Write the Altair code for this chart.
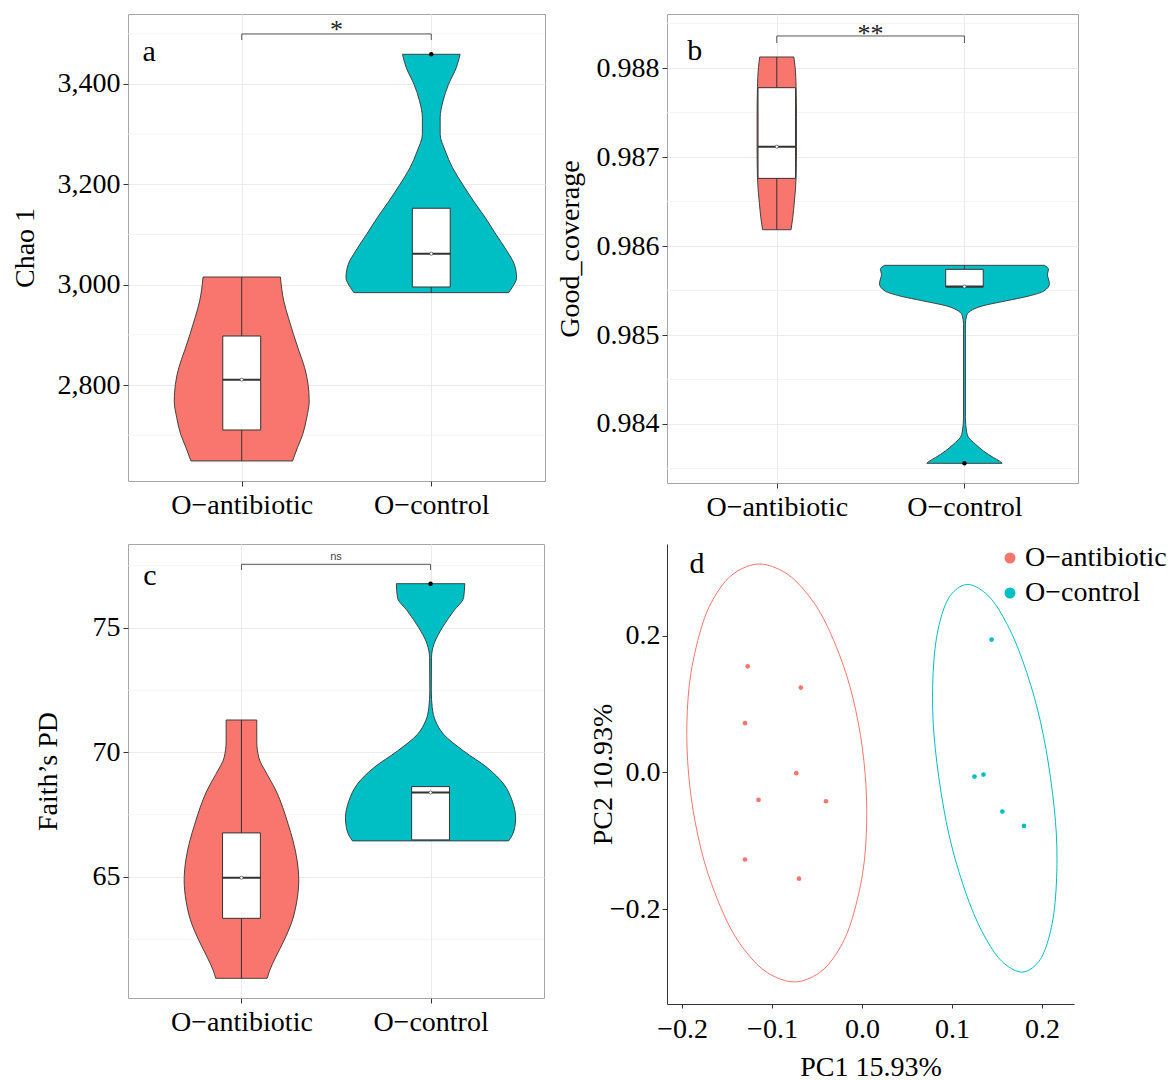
import altair as alt
import pandas as pd

FONT = "Liberation Serif"
GROUPS = ["O−antibiotic", "O−control"]
COLORS = ["#F8766D", "#00BFC4"]
POS = [1, 2]

# ---------------- panel a : Chao 1 ----------------
# violin outlines: value and half-width (in group units)
A_V = [
    [3015.3, 2967.5, 2934.3, 2901.1, 2867.9, 2834.6, 2801.5, 2768.2, 2735.0, 2701.8, 2675.1, 2648.6],
    [3459.2, 3432.5, 3399.3, 3366.1, 3332.8, 3299.7, 3266.5, 3233.2, 3200.1, 3166.8, 3133.5, 3100.5,
     3067.2, 3040.7, 3014.0, 2994.0, 2984.1],
]
A_W = [
    [0.204, 0.222, 0.246, 0.273, 0.302, 0.332, 0.350, 0.356, 0.343, 0.322, 0.294, 0.268],
    [0.152, 0.132, 0.091, 0.062, 0.047, 0.047, 0.074, 0.112, 0.165, 0.223, 0.285, 0.341,
     0.399, 0.438, 0.450, 0.426, 0.408],
]
A_LO = [2648.6, 2984.1]
A_Q1 = [2710.4, 2995.4]
A_MED = [2810.7, 3061.8]
A_Q3 = [2897.7, 3152.3]
A_HI = [3015.3, 3152.3]
A_OUT_POS = [2]
A_OUT_V = [3459.2]
A_TICKS = [2800, 3000, 3200, 3400]
A_MINOR = [2700, 2900, 3100, 3300, 3500]

# ---------------- panel b : Good_coverage ----------------
B_V = [
    [0.988124, 0.988004, 0.987779, 0.987442, 0.987116, 0.986767, 0.986506, 0.986318, 0.986183],
    [0.985783, 0.985738, 0.985682, 0.985576, 0.985494, 0.985438, 0.985382, 0.985326, 0.985270,
     0.985213, 0.985120, 0.984071, 0.983921, 0.983846, 0.983772, 0.983697, 0.983622, 0.983584, 0.983558],
]
B_W = [
    [0.091, 0.098, 0.103, 0.105, 0.105, 0.103, 0.094, 0.085, 0.076],
    [0.426, 0.448, 0.442, 0.453, 0.423, 0.343, 0.218, 0.094, 0.032,
     0.011, 0.005, 0.005, 0.011, 0.023, 0.059, 0.101, 0.155, 0.186, 0.201],
]
B_LO = [0.986183, 0.985540]
B_Q1 = [0.986760, 0.985540]
B_MED = [0.987116, 0.985545]
B_Q3 = [0.987779, 0.985738]
B_HI = [0.988124, 0.985783]
B_OUT_POS = [2]
B_OUT_V = [0.983558]
B_TICKS = [0.984, 0.985, 0.986, 0.987, 0.988]
B_MINOR = [0.9835, 0.9845, 0.9855, 0.9865, 0.9875, 0.9885]

# ---------------- panel c : Faith's PD ----------------
C_V = [
    [71.305, 70.46, 69.79, 69.12, 68.45, 67.78, 67.12, 66.45, 65.64, 64.84, 64.04, 63.23,
     62.43, 61.76, 61.22, 60.93],
    [76.78, 76.22, 75.68, 75.01, 74.35, 73.81, 72.47, 71.80, 71.27, 70.73, 70.06, 69.39,
     68.72, 68.05, 67.38, 66.85, 66.45],
]
C_W = [
    [0.081, 0.081, 0.092, 0.136, 0.184, 0.219, 0.247, 0.273, 0.295, 0.303, 0.293, 0.268,
     0.224, 0.180, 0.148, 0.136],
    [0.181, 0.175, 0.122, 0.062, 0.018, 0.005, 0.004, 0.009, 0.026, 0.069, 0.175, 0.300,
     0.388, 0.432, 0.450, 0.441, 0.413],
]
C_LO = [60.93, 66.45]
C_Q1 = [63.34, 66.49]
C_MED = [64.97, 68.39]
C_Q3 = [66.77, 68.63]
C_HI = [71.305, 68.63]
C_OUT_POS = [2]
C_OUT_V = [76.78]
C_TICKS = [65, 70, 75]
C_MINOR = [62.5, 67.5, 72.5, 77.5]

# ---------------- panel d : PCoA ----------------
PCA_GROUP = ["O−antibiotic"] * 8 + ["O−control"] * 5
PC1 = [-0.127, -0.068, -0.130, -0.073, -0.115, -0.040, -0.130, -0.070,
       0.144, 0.125, 0.135, 0.156, 0.180]
PC2 = [0.155, 0.124, 0.072, -0.001, -0.040, -0.042, -0.127, -0.155,
       0.194, -0.006, -0.003, -0.057, -0.078]
# confidence-ellipse outlines
ELL_A_X = [-0.1141, -0.0848, -0.0616, -0.0402, -0.0179, -0.0041, 0.0034, 0.0052, 0.0008, -0.0124,
           -0.0280, -0.0477, -0.0752, -0.1046, -0.1278, -0.1491, -0.1714, -0.1852, -0.1928,
           -0.1946, -0.1901, -0.1769, -0.1613, -0.1417]
ELL_A_Y = [0.3044, 0.2912, 0.2620, 0.2182, 0.1453, 0.0723, -0.0007, -0.0737, -0.1467, -0.2197,
           -0.2635, -0.2927, -0.3058, -0.2927, -0.2635, -0.2197, -0.1467, -0.0737, -0.0007,
           0.0723, 0.1453, 0.2182, 0.2620, 0.2912]
ELL_C_X = [0.1174, 0.1373, 0.1546, 0.1734, 0.1918, 0.2043, 0.2137, 0.2167, 0.2139, 0.2059, 0.1949,
           0.1777, 0.1578, 0.1406, 0.1217, 0.1033, 0.0908, 0.0814, 0.0784, 0.0812, 0.0892, 0.1002]
ELL_C_Y = [0.2745, 0.2616, 0.2324, 0.1813, 0.1083, 0.0353, -0.0523, -0.1253, -0.1982, -0.2493,
           -0.2785, -0.2914, -0.2785, -0.2493, -0.1982, -0.1253, -0.0523, 0.0353, 0.1083, 0.1813,
           0.2324, 0.2616]


def violin_panel(V, W, LO, Q1, MED, Q3, HI, OUT_POS, OUT_V, ydom, xdom, ticks, minor, fmt,
                 ytitle, title_x, width, height, br_y, br_tip, sig, sig_y, sig_font, sig_size,
                 sig_color, letter, letter_x, letter_y):
    xs = alt.Scale(domain=xdom, nice=False, zero=False)
    ys = alt.Scale(domain=ydom, nice=False, zero=False)
    xaxis = alt.Axis(values=[1, 2], labelExpr="datum.value == 1 ? 'O−antibiotic' : 'O−control'",
                     title=None, grid=True, gridColor="#EBEBEB", gridWidth=1, domain=False,
                     ticks=True, tickColor="#333333", tickSize=5, labelFont=FONT, labelFontSize=28,
                     labelColor="black", labelPadding=5, labelFlush=False, labelOverlap=False)
    yaxis = alt.Axis(values=ticks, format=fmt, title=ytitle, titleX=title_x, titleFont=FONT,
                     titleFontSize=28, titleFontWeight="normal", titleColor="black", grid=True,
                     gridColor="#EBEBEB", gridWidth=1, domain=False, tickColor="#333333", tickSize=5,
                     labelFont=FONT, labelFontSize=28, labelColor="black", labelPadding=3,
                     labelOverlap=False)

    def X(f):
        return alt.X(f, type="quantitative", scale=xs, axis=xaxis)

    def Y(f):
        return alt.Y(f, type="quantitative", scale=ys, axis=yaxis)

    layers = [alt.Chart(pd.DataFrame({"v": minor})).mark_rule(color="#EFEFEF", strokeWidth=0.7)
              .encode(y=Y("v"))]
    for i in range(2):
        df = pd.DataFrame({"v": V[i], "lo": [POS[i] - w for w in W[i]],
                           "hi": [POS[i] + w for w in W[i]]})
        layers.append(alt.Chart(df).mark_area(orient="horizontal", interpolate="monotone",
                                              fill=COLORS[i], stroke="#333333", strokeWidth=0.9,
                                              opacity=1)
                      .encode(y=Y("v"), x=X("lo"), x2="hi"))
    box = pd.DataFrame({"pos": POS, "x1": [p - 0.1 for p in POS], "x2": [p + 0.1 for p in POS],
                        "lo": LO, "q1": Q1, "med": MED, "q3": Q3, "hi": HI})
    layers.append(alt.Chart(box).mark_rule(color="#333333", strokeWidth=1)
                  .encode(x=X("pos"), y=Y("lo"), y2="hi"))
    layers.append(alt.Chart(box).mark_rect(fill="white", stroke="#333333", strokeWidth=1)
                  .encode(x=X("x1"), x2="x2", y=Y("q1"), y2="q3"))
    layers.append(alt.Chart(box).mark_rule(color="#333333", strokeWidth=2)
                  .encode(x=X("x1"), x2="x2", y=Y("med")))
    layers.append(alt.Chart(box).mark_circle(fill="white", stroke="#333333", strokeWidth=0.6,
                                             size=10, opacity=1)
                  .encode(x=X("pos"), y=Y("med")))
    out = pd.DataFrame({"pos": OUT_POS, "v": OUT_V})
    layers.append(alt.Chart(out).mark_circle(color="black", size=20, opacity=1)
                  .encode(x=X("pos"), y=Y("v")))
    br = pd.DataFrame({"i": [0, 1, 2, 3], "bx": [1, 1, 2, 2], "by": [br_tip, br_y, br_y, br_tip]})
    layers.append(alt.Chart(br).mark_line(color="#555555", strokeWidth=1)
                  .encode(x=X("bx"), y=Y("by"), order="i:Q"))
    sg = pd.DataFrame({"tx": [1.5], "ty": [sig_y], "t": [sig]})
    layers.append(alt.Chart(sg).mark_text(font=sig_font, fontSize=sig_size, color=sig_color,
                                          align="center", baseline="middle")
                  .encode(x=X("tx"), y=Y("ty"), text="t:N"))
    lt = pd.DataFrame({"tx": [letter_x], "ty": [letter_y], "t": [letter]})
    layers.append(alt.Chart(lt).mark_text(font=FONT, fontSize=30, color="black",
                                          align="center", baseline="middle")
                  .encode(x=X("tx"), y=Y("ty"), text="t:N"))
    return alt.layer(*layers).properties(
        width=width, height=height,
        view=alt.ViewBackground(stroke="#A6A6A6", strokeWidth=1))


pa = violin_panel(A_V, A_W, A_LO, A_Q1, A_MED, A_Q3, A_HI, A_OUT_POS, A_OUT_V,
                  [2608.7, 3539.5], [0.4, 2.6], A_TICKS, A_MINOR, ",d", "Chao 1", -89,
                  417, 467, 3499.7, 3487.7, "*", 3507.0, FONT, 26, "#222222", "a", 0.511, 3462.8)
pb = violin_panel(B_V, B_W, B_LO, B_Q1, B_MED, B_Q3, B_HI, B_OUT_POS, B_OUT_V,
                  [0.983337, 0.988607], [0.415, 2.605], B_TICKS, B_MINOR, ".3f", "Good_coverage", -83,
                  411, 469, 0.988360, 0.988281, "**", 0.988385, FONT, 26, "#222222", "b", 0.563, 0.988189)
pc = violin_panel(C_V, C_W, C_LO, C_Q1, C_MED, C_Q3, C_HI, C_OUT_POS, C_OUT_V,
                  [60.14, 78.373], [0.4, 2.6], C_TICKS, C_MINOR, "d", "Faith’s PD", -66,
                  416, 454, 77.558, 77.33, "ns", 77.84, "Liberation Sans", 11, "#444444", "c", 0.516, 77.08)

# panel d
dxs = alt.Scale(domain=[-0.2167, 0.2356], nice=False, zero=False)
dys = alt.Scale(domain=[-0.338, 0.3336], nice=False, zero=False)
dxaxis = alt.Axis(values=[-0.2, -0.1, 0.0, 0.1, 0.2], format=".1f", title="PC1 15.93%", titleY=49,
                  titleFont=FONT, titleFontSize=28, titleFontWeight="normal", titleColor="black",
                  grid=False, domain=True, domainColor="#333333", domainWidth=1, tickColor="#333333",
                  tickSize=4, labelFont=FONT, labelFontSize=28, labelColor="black", labelPadding=7,
                  labelFlush=False, labelOverlap=False)
dyaxis = alt.Axis(values=[-0.2, 0.0, 0.2], format=".1f", title="PC2 10.93%", titleX=-50,
                  titleFont=FONT, titleFontSize=28, titleFontWeight="normal", titleColor="black",
                  grid=False, domain=True, domainColor="#333333", domainWidth=1, tickColor="#333333",
                  tickSize=5, labelFont=FONT, labelFontSize=28, labelColor="black", labelPadding=2,
                  labelOverlap=False)


def DX(f):
    return alt.X(f, type="quantitative", scale=dxs, axis=dxaxis)


def DY(f):
    return alt.Y(f, type="quantitative", scale=dys, axis=dyaxis)


pts = pd.DataFrame({"grp": PCA_GROUP, "pc1": PC1, "pc2": PC2})
ell = pd.concat([
    pd.DataFrame({"grp": GROUPS[0], "i": list(range(len(ELL_A_X))), "ex": ELL_A_X, "ey": ELL_A_Y}),
    pd.DataFrame({"grp": GROUPS[1], "i": list(range(len(ELL_C_X))), "ex": ELL_C_X, "ey": ELL_C_Y}),
])
letter_d = pd.DataFrame({"tx": [-0.1834], "ty": [0.3045], "t": ["d"]})

# legend is placed in the top-level layout coordinates (origin = top-left of panel a)
pd_points = alt.Chart(pts).mark_circle(size=22, opacity=1).encode(
    x=DX("pc1"), y=DY("pc2"),
    color=alt.Color("grp:N", scale=alt.Scale(domain=GROUPS, range=COLORS),
                    legend=alt.Legend(title=None, orient="none", legendX=868, legendY=530,
                                      direction="vertical", labelFont=FONT, labelFontSize=28,
                                      labelColor="black", symbolType="circle", symbolSize=90,
                                      labelOffset=1, rowPadding=7, padding=0, labelLimit=400)))
pd_ell = alt.Chart(ell).mark_line(strokeWidth=1, interpolate="cardinal-closed").encode(
    x=DX("ex"), y=DY("ey"),
    stroke=alt.Stroke("grp:N", scale=alt.Scale(domain=GROUPS, range=COLORS), legend=None),
    order="i:Q")
pd_letter = alt.Chart(letter_d).mark_text(font=FONT, fontSize=30, color="black", align="center",
                                          baseline="middle").encode(
    x=DX("tx"), y=DY("ty"), text="t:N")
pdd = alt.layer(pd_points, pd_ell, pd_letter).properties(
    width=407, height=460, view=alt.ViewBackground(stroke="transparent"))

chart = alt.concat(pa, pb, pc, pdd, columns=2, spacing={"row": 61, "column": 122},
                   bounds="flush").properties(
    padding={"left": 10, "top": 13, "right": 2, "bottom": 2}
).configure(font=FONT).configure_view(stroke="transparent")

chart.save("out.html", embed_options={"renderer": "svg", "actions": False})
